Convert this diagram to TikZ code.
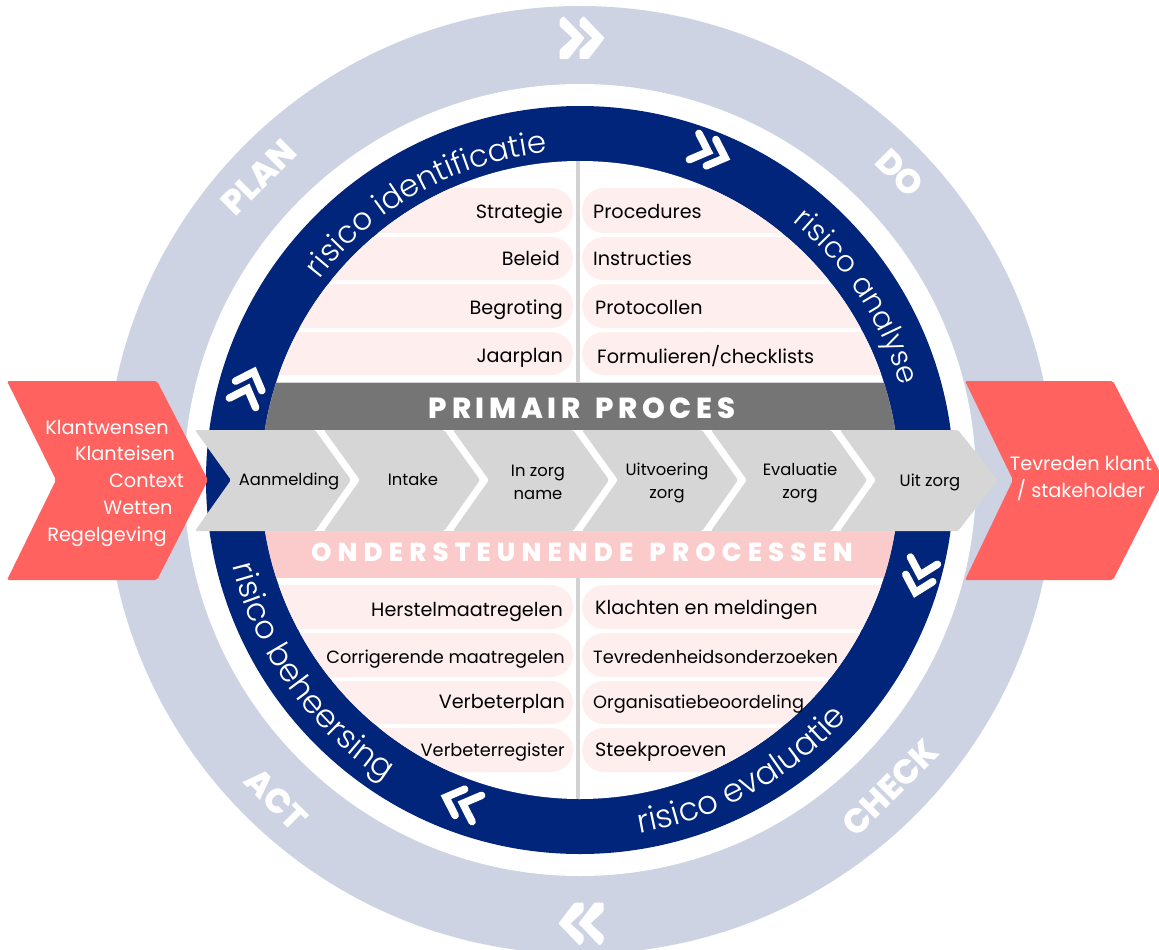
\documentclass[tikz,border=0pt]{standalone}
\usepackage{fontspec}
\setmainfont{Poppins}
\newfontfamily\plight{Poppins Light}
\newfontfamily\pxb{Poppins ExtraBold}
\usetikzlibrary{decorations.text}
\definecolor{ringgray}{HTML}{CDD3E2}
\definecolor{navy}{HTML}{00257A}
\definecolor{salmon}{HTML}{FF625F}
\definecolor{stepgray}{HTML}{D6D6D6}
\definecolor{bardark}{HTML}{757575}
\definecolor{barpink}{HTML}{FBCBCB}
\definecolor{palepink}{HTML}{FEEFEE}
\definecolor{divgray}{HTML}{D2D2D2}
\newcommand{\fs}[1]{\fontsize{#1}{#1}\selectfont}
\tikzset{
  lbl/.style={inner sep=0pt,text height=18pt,text depth=4pt,text=black},
  redlbl/.style={inner sep=0pt,text height=18pt,text depth=4pt,text=white,font=\fs{19.3}},
  steplbl/.style={inner sep=0pt,align=center,text=black,font=\fontsize{16.4}{23}\selectfont},
  bodyl/.style={lbl,anchor=east,font=\fs{19.2}},
  bodyr/.style={lbl,anchor=west,font=\fs{19.2}},
  smallbody/.style={font=\fs{17.75}},
  pill/.style={fill=palepink,rounded corners=22pt},
  pdca/.style={inner sep=0pt,text=white,font=\pxb\fs{34}},
  redarrow/.style={fill=salmon,rounded corners=2pt},
  steparrow/.style={fill=stepgray,rounded corners=1.5pt},
  dblchev/.pic={
    \fill[white,rounded corners=1pt] (-22,-18)--(-18,-22)--(3,0)--(-13,21)--(-22,21)--(-22,12)--(-9,0)--(-22,-12)--cycle;
    \fill[white,rounded corners=1pt] (-2,-18)--(2,-22)--(23,0)--(7,21)--(-2,21)--(-2,12)--(11,0)--(-2,-12)--cycle;
  },
  navychev/.pic={
    \draw[white,line width=7.5pt,line cap=round,miter limit=10] (-19,-14)--(-4,0)--(-19,14);
    \draw[white,line width=7.5pt,line cap=round,miter limit=10] (-1,-14)--(14,0)--(-1,14);
  }
}
% #1,#2 visual start and end angle, #3 radius, #4 size, #5 text
\newcommand{\ringtext}[5]{%
  \path[decorate,decoration={text along path,text align=center,
    text={|\plight\fs{#4}\color{white}|#5}}]
    (580,480) ++(-#1:#3) arc[start angle=-#1,end angle=-#2,radius=#3];}
\begin{document}
\begin{tikzpicture}[x=1pt,y=-1pt]
\path[use as bounding box] (0,0) rectangle (1159,950);
\clip (0,0) rectangle (1159,950);
\fill[white] (0,0) rectangle (1159,950);
% rings
\coordinate (c) at (580,480);
\fill[ringgray] (c) circle[radius=474];
\fill[white] (c) circle[radius=396];
\fill[navy] (c) circle[radius=374];
\fill[white] (c) circle[radius=319];
% inside of the disc
\begin{scope}
\clip (c) circle[radius=319];
\foreach \a/\b in {188/233,237/280,284/328,332/375,585/629,633/677,681/724,728/772}{
  \fill[pill] (150,\a) rectangle (573,\b);
  \fill[pill] (582,\a) rectangle (1010,\b);
}
\fill[divgray] (576,150) rectangle (580,383);
\fill[divgray] (576,578) rectangle (580,810);
\fill[bardark] (200,383) rectangle (960,430);
\fill[divgray] (200,382) rectangle (960,383);
\fill[barpink] (200,531) rectangle (960,578);
\end{scope}
% ring texts
\ringtext{170}{68}{329}{31}{risico identificatie}
\ringtext{80}{-13}{334}{29.5}{risico analyse}
\ringtext{175}{256}{358}{32}{risico beheersing}
\ringtext{261}{337}{358}{32.5}{risico evaluatie}
% chevrons
\pic[rotate=0] at (581.5,38) {dblchev};
\pic[rotate=180] at (581.5,923.5) {dblchev};
\pic[rotate=-20] at (712,153) {navychev};
\pic[rotate=-105] at (919,579) {navychev};
\pic[rotate=160] at (459,802) {navychev};
\pic[rotate=70] at (249,385) {navychev};
% PDCA
\node[pdca,rotate=45] (plan) at (259,177) {PLAN};
\node[pdca,rotate=-45] (do) at (900,173) {DO};
\node[pdca,rotate=45] (check) at (890,788) {CHECK};
\node[pdca,rotate=-45] (act) at (276,799) {ACT};
% bar titles
\node[inner sep=0pt,text=white] (primair) at (582,408) {\pxb\fs{29}\addfontfeature{LetterSpace=16}PRIMAIR\hspace{5pt} PROCES};
\node[inner sep=0pt,text=white] (onder) at (582,552) {\pxb\fs{26}\addfontfeature{LetterSpace=23.5}ONDERSTEUNENDE\hspace{5pt} PROCESSEN};
% process steps
\fill[steparrow] (195,430)--(315,430)--(351,480)--(315,531)--(195,531)--(231,480)--cycle;
\foreach \x in {324,453,582,711}{
  \fill[steparrow] (\x,430)--({\x+120},430)--({\x+156},480)--({\x+120},531)--(\x,531)--({\x+36},480)--cycle;
}
\fill[steparrow] (840,430)--(958,430)--(998,480)--(958,531)--(840,531)--(876,480)--cycle;
\node[steplbl] (s1) at (289,481) {Aanmelding};
\node[steplbl] (s2) at (413,480) {Intake};
\node[steplbl] (s3) at (538,482) {In zorg\\name};
\node[steplbl] (s4) at (667,483) {Uitvoering\\zorg};
\node[steplbl] (s5) at (800,483) {Evaluatie\\zorg};
\node[steplbl] (s6) at (930,482) {Uit zorg};
% side arrows
\fill[redarrow] (7,381)--(157,381)--(208,480)--(157,580)--(7,580)--(56,480)--cycle;
\fill[redarrow] (965,381)--(1113,381)--(1164,480)--(1113,580)--(965,580)--(1013,480)--cycle;
\node[redlbl] (in1) at (107,427) {Klantwensen};
\node[redlbl] (in2) at (125,453) {Klanteisen};
\node[redlbl] (in3) at (146.5,480) {Context};
\node[redlbl] (in4) at (138,507) {Wetten};
\node[redlbl] (in5) at (107,534) {Regelgeving};
\node[redlbl] (out1) at (1081,463) {Tevreden klant};
\node[redlbl] (out2) at (1081,490) {/ stakeholder};
% body labels
\node[bodyl] (l1) at (563,211) {Strategie};
\node[bodyl] (l2) at (560,258) {Beleid};
\node[bodyl] (l3) at (563,307) {Begroting};
\node[bodyl] (l4) at (563,355) {Jaarplan};
\node[bodyr] (r1) at (593,211) {Procedures};
\node[bodyr] (r2) at (593,258) {Instructies};
\node[bodyr] (r3) at (595,307) {Protocollen};
\node[bodyr] (r4) at (597,356) {Formulieren/checklists};
\node[bodyl] (l5) at (563,609) {Herstelmaatregelen};
\node[bodyl,smallbody] (l6) at (565,656) {Corrigerende maatregelen};
\node[bodyl] (l7) at (565,701) {Verbeterplan};
\node[bodyl,smallbody] (l8) at (565,749) {Verbeterregister};
\node[bodyr] (r5) at (595,607) {Klachten en meldingen};
\node[bodyr,smallbody] (r6) at (593,656) {Tevredenheidsonderzoeken};
\node[bodyr,smallbody] (r7) at (593,701) {Organisatiebeoordeling};
\node[bodyr] (r8) at (595,749) {Steekproeven};
\end{tikzpicture}
\end{document}
